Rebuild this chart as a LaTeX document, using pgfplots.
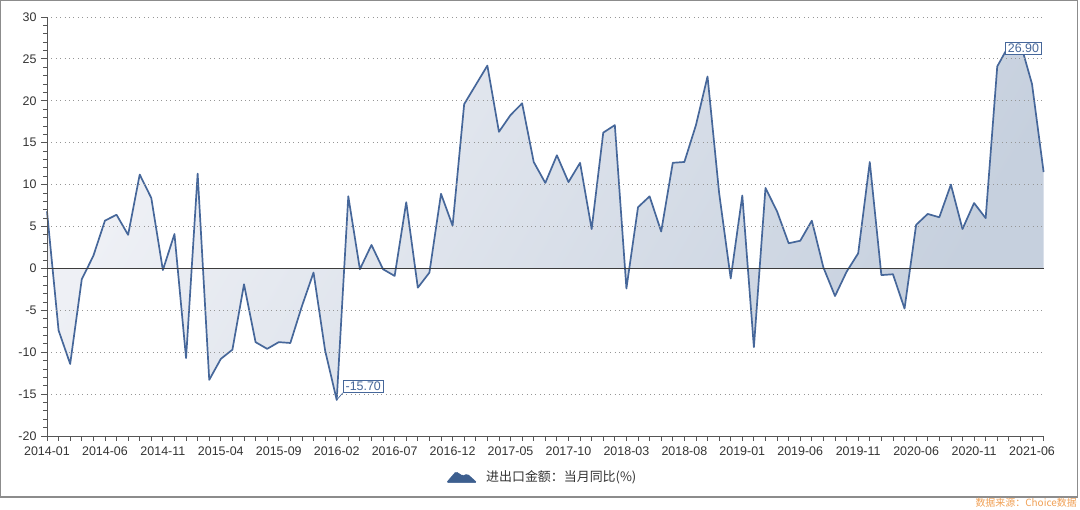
\documentclass[border=0pt]{standalone}
\usepackage{pgfplots}
\pgfplotsset{compat=1.18}
\usepackage{fontspec}
\setmainfont{Liberation Sans}
\newfontfamily\cjk{Noto Sans CJK SC}
\definecolor{linecol}{HTML}{46679A}
\definecolor{fillA}{HTML}{EEF0F5}
\definecolor{fillB}{HTML}{C6D0DE}
\definecolor{legcol}{HTML}{3D5F8F}
\definecolor{txt}{HTML}{333333}
\definecolor{src}{HTML}{F0A055}
\pgfplotstableread{
x y
0 6.8
1 -7.4
2 -11.4
3 -1.3
4 1.5
5 5.7
6 6.4
7 4.0
8 11.2
9 8.4
10 -0.2
11 4.1
12 -10.7
13 11.3
14 -13.3
15 -10.8
16 -9.7
17 -1.9
18 -8.8
19 -9.6
20 -8.8
21 -8.9
22 -4.5
23 -0.5
24 -9.8
25 -15.7
26 8.6
27 -0.1
28 2.8
29 -0.1
30 -0.9
31 7.9
32 -2.3
33 -0.5
34 8.9
35 5.1
36 19.6
37 21.9
38 24.2
39 16.3
40 18.3
41 19.7
42 12.7
43 10.2
44 13.5
45 10.3
46 12.6
47 4.7
48 16.2
49 17.1
50 -2.4
51 7.3
52 8.6
53 4.4
54 12.6
55 12.7
56 17.1
57 22.9
58 9.0
59 -1.2
60 8.7
61 -9.4
62 9.6
63 6.8
64 3.0
65 3.3
66 5.7
67 0.1
68 -3.3
69 -0.4
70 1.8
71 12.7
72 -0.8
73 -0.7
74 -4.8
75 5.2
76 6.5
77 6.1
78 10.0
79 4.7
80 7.8
81 6.0
82 24.1
83 26.6
84 26.9
85 22.0
86 11.5
}\datatable
\begin{document}
\begin{tikzpicture}
\useasboundingbox (0,0) rectangle (1080bp,510bp);
\draw[color={rgb,255:red,140;green,140;blue,140}, line width=1.2bp] (0.6bp,13bp) rectangle (1077.5bp,509.4bp);
\node[anchor=north east, inner sep=0pt, text=src, font=\cjk\fontsize{10}{12}\selectfont] at (1077bp,12bp) {数据来源：Choice数据};
\begin{axis}[
  at={(47bp,74bp)}, anchor=south west,
  scale only axis, width=996.7bp, height=419bp,
  xmin=0, xmax=86, ymin=-20, ymax=30,
  axis x line*=bottom, axis y line*=left,
  axis line style={color={rgb,255:red,85;green,85;blue,85}, line width=0.9bp},
  tick align=outside,
  major tick length=6bp, minor tick length=4bp,
  tick style={color={rgb,255:red,85;green,85;blue,85}, line width=0.8bp},
  xtick={0,5,...,85},
  xticklabels={2014-01,2014-06,2014-11,2015-04,2015-09,2016-02,2016-07,2016-12,2017-05,2017-10,2018-03,2018-08,2019-01,2019-06,2019-11,2020-06,2020-11,2021-06},
  minor xtick={0,...,86},
  x tick style={/pgfplots/major tick length=5bp},
  minor x tick style={/pgfplots/minor tick length=5bp},
  ytick={-20,-15,...,30},
  minor y tick num=4,
  ymajorgrids,
  major grid style={color={rgb,255:red,150;green,150;blue,150}, line width=0.8bp, dash pattern=on 0.8bp off 3.6bp},
  extra y ticks={0},
  extra y tick labels={},
  extra y tick style={grid=major, major grid style={color={rgb,255:red,60;green,60;blue,60}, line width=1.1bp, solid}, major tick length=0bp},
  ticklabel style={font=\fontsize{12.5}{14}\selectfont, text=txt},
  /pgf/number format/assume math mode=true,
  yticklabel style={xshift=-1bp},
  xticklabel style={yshift=-1bp},
  axis on top,
  clip=false,
  legend style={at={(axis description cs:0.497,-0.098)}, anchor=center, draw=none, fill=none,
    font=\cjk\fontsize{13}{15}\selectfont, text=txt, inner sep=0pt,
    /tikz/every even column/.append style={column sep=0bp}},
  legend cell align=left,
]
\addplot[draw=none, shading=axis, top color=fillA, bottom color=fillB, shading angle=60, forget plot] table[x=x,y=y] {\datatable} \closedcycle;
\addplot[linecol, line width=1.7bp, mark=none, line join=round, forget plot] table[x=x,y=y] {\datatable};
\addlegendimage{legend image code/.code={\fill[legcol, rounded corners=1.5bp] (-5bp,-5.5bp) -- (4.5bp,5.5bp) -- (11bp,1.2bp) -- (16bp,3bp) -- (25.5bp,-5.5bp) -- cycle;}}
\addlegendentry{\hspace{7bp}进出口金额：当月同比(\%)}
\draw[linecol, line width=0.7bp] (axis cs:25,-15.7) -- ++(6bp,7bp);
\node[draw=linecol, line width=0.8bp, fill=white, text=linecol, inner xsep=2.5bp, inner ysep=1.8bp, anchor=south west, font=\fontsize{12.5}{13}\selectfont] at ([xshift=6bp,yshift=7bp]axis cs:25,-15.7) {-15.70};
\node[draw=linecol, line width=0.8bp, fill=white, text=linecol, inner xsep=2.5bp, inner ysep=1.8bp, anchor=center, font=\fontsize{12.5}{13}\selectfont] at ([xshift=3bp,yshift=-5.5bp]axis cs:84,26.9) {26.90};
\end{axis}
\end{tikzpicture}
\end{document}
